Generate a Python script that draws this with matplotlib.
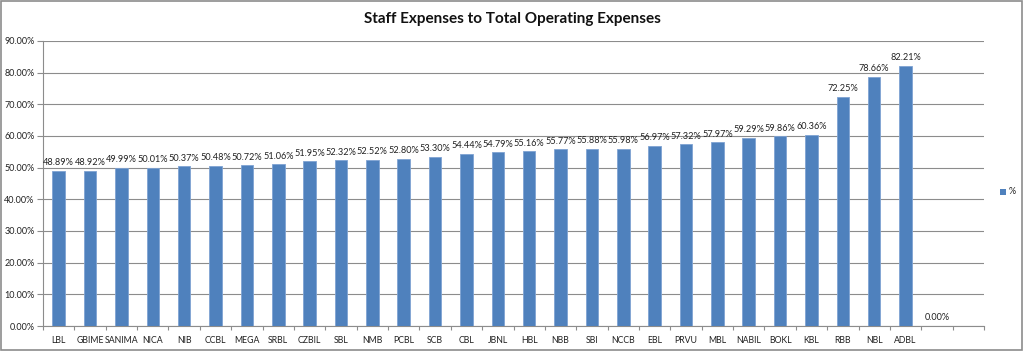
import matplotlib
matplotlib.use("Agg")
import matplotlib.pyplot as plt
from matplotlib.patches import Rectangle
import numpy as np

plt.rcParams['font.family'] = ['Lato', 'DejaVu Sans']

categories = ["LBL", "GBIME", "SANIMA", "NICA", "NIB", "CCBL", "MEGA", "SRBL", "CZBIL", "SBL",
              "NMB", "PCBL", "SCB", "CBL", "JBNL", "HBL", "NBB", "SBI", "NCCB", "EBL",
              "PRVU", "MBL", "NABIL", "BOKL", "KBL", "RBB", "NBL", "ADBL", "", ""]
values = [48.89, 48.92, 49.99, 50.01, 50.37, 50.48, 50.72, 51.06, 51.95, 52.32,
          52.52, 52.80, 53.30, 54.44, 54.79, 55.16, 55.77, 55.88, 55.98, 56.97,
          57.32, 57.97, 59.29, 59.86, 60.36, 72.25, 78.66, 82.21, 0.0, None]
title = "Staff Expenses to Total Operating Expenses"
series_name = "%"
yticks = np.arange(0, 91, 10)

bar_color = "#4F81BD"
grid_color = "#8C8C8C"
text_color = "#222222"

fig = plt.figure(figsize=(10.24, 3.51), dpi=100)
ax = fig.add_axes([43/1024, 25/351, 941/1024, 285/351])

x = np.arange(len(categories))
vals = [v if v is not None else 0 for v in values]
ax.bar(x, vals, width=0.4, color=bar_color, edgecolor="#7FA3D3", linewidth=0.6, zorder=3)

for xi, v in zip(x, values):
    if v is None:
        continue
    ax.text(xi, v + 1.2, f"{v:.2f}%", ha="center", va="bottom", fontsize=6.6, color=text_color)

ax.set_xlim(-0.5, len(categories) - 0.5)
ax.set_ylim(0, 90)
ax.set_yticks(yticks)
ax.set_yticklabels([f"{t:.2f}%" for t in yticks], fontsize=6.5, color=text_color)
ax.yaxis.grid(True, color=grid_color, linewidth=0.8, zorder=0)
ax.set_axisbelow(True)

ax.set_xticks(x)
ax.set_xticklabels(categories, fontsize=6.3, color=text_color)
ax.tick_params(axis="x", length=0, pad=7)
ax.set_xticks(np.arange(-0.5, len(categories) + 0.5, 1), minor=True)
ax.tick_params(axis="x", which="minor", length=3, color=grid_color, width=0.8)
ax.tick_params(axis="y", length=4, color=grid_color, width=0.8, pad=2)

for s in ["top", "right"]:
    ax.spines[s].set_visible(False)
ax.spines["left"].set_color(grid_color)
ax.spines["bottom"].set_color(grid_color)
ax.spines["left"].set_linewidth(0.8)
ax.spines["bottom"].set_linewidth(0.8)

fig.text(0.5, 1 - 19/351, title, ha="center", va="center", fontsize=11, fontweight="bold", color="#111111")

# legend
fig.patches.append(Rectangle((1000/1024, (351-195)/351), 6/1024, 6/351, transform=fig.transFigure,
                             facecolor=bar_color, edgecolor="none"))
fig.text(1009/1024, (351-192)/351, series_name, fontsize=6.5, va="center", ha="left", color=text_color)

# figure border
fig.patches.append(Rectangle((0.001, 0.002), 0.997, 0.995, transform=fig.transFigure,
                             fill=False, edgecolor="#8C8C8C", linewidth=1.2))

fig.savefig("out.png", dpi=100)
